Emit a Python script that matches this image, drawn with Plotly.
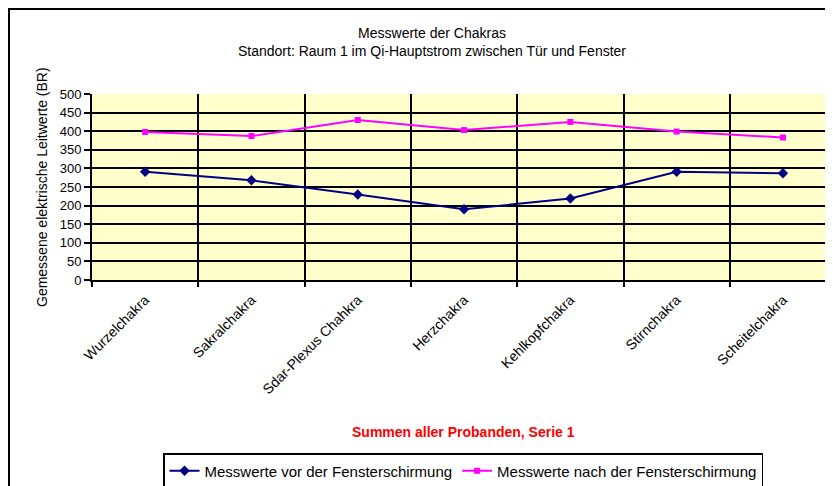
import plotly.graph_objects as go

categories = ["Wurzelchakra", "Sakralchakra", "Solar-Plexus Chahkra", "Herzchakra",
              "Kehlkopfchakra", "Stirnchakra", "Scheitelchakra"]
tick_labels = ["Wurzelchakra", "Sakralchakra", "Sdar-Plexus Chahkra", "Herzchakra",
               "Kehlkopfchakra", "Stirnchakra", "Scheitelchakra"]
vor_values = [291, 268, 230, 190, 219, 291, 287]
nach_values = [398, 387, 430, 403, 425, 399, 383]
y_ticks = list(range(0, 501, 50))

font_family = "Liberation Sans, Arial, sans-serif"
x_idx = list(range(len(categories)))
boundaries = [i - 0.5 for i in range(len(categories) + 1)]

# page body has an 8px margin: figure coordinates = screen coordinates - 8
OFF = 8
W, H = 833, 486
L, T = 92 - OFF, 94 - OFF
plot_h = 186
B = H - T - plot_h
R = 0
plot_w = W - L - R
cat_w = 106.3
x_max = -0.5 + plot_w / cat_w


def px_x(sx):
    return (sx - OFF - L) / plot_w


def px_y(sy):
    return (T + plot_h - (sy - OFF)) / plot_h


fig = go.Figure()
fig.add_trace(go.Scatter(
    x=x_idx, y=vor_values, name="Messwerte vor der Fensterschirmung",
    mode="lines+markers", line=dict(color="#000080", width=2),
    marker=dict(symbol="diamond", size=8, color="#000080"),
))
fig.add_trace(go.Scatter(
    x=x_idx, y=nach_values, name="Messwerte nach der Fensterschirmung",
    mode="lines+markers", line=dict(color="#FF00FF", width=2),
    marker=dict(symbol="square", size=6, color="#FF00FF"),
))
fig.add_trace(go.Scatter(x=[None], y=[None], xaxis="x2", showlegend=False, hoverinfo="skip"))

fig.update_layout(
    width=W, height=H,
    margin=dict(l=L, r=R, t=T, b=B, autoexpand=False),
    paper_bgcolor="white",
    plot_bgcolor="#FFFFCC",
    font=dict(family=font_family, size=14, color="black"),
    showlegend=True,
    legend=dict(
        orientation="h", x=px_x(463), xanchor="center", y=px_y(471), yanchor="middle",
        bordercolor="black", borderwidth=1.5, bgcolor="white",
        font=dict(size=15), itemwidth=30,
    ),
    xaxis=dict(
        range=[-0.5, x_max], tickmode="array", tickvals=x_idx, ticktext=tick_labels,
        tickangle=-45, showgrid=False, ticks="", zeroline=False,
        showline=False, tickfont=dict(size=14), ticklabelstandoff=8,
    ),
    xaxis2=dict(
        range=[-0.5, x_max], overlaying="x", anchor="y", side="bottom",
        tickmode="array", tickvals=boundaries, showticklabels=False,
        showgrid=True, gridcolor="black", gridwidth=1.5,
        ticks="outside", ticklen=5, tickcolor="black", tickwidth=1.5,
        showline=True, linecolor="black", linewidth=2, zeroline=False,
    ),
    yaxis=dict(
        range=[0, 500], tickmode="array", tickvals=y_ticks,
        showgrid=True, gridcolor="black", gridwidth=2,
        ticks="outside", ticklen=6, tickcolor="black", tickwidth=1.5,
        showline=True, linecolor="black", linewidth=2, zeroline=False,
        tickfont=dict(size=13),
    ),
    annotations=[
        dict(text="Messwerte der Chakras<br>Standort: Raum 1 im Qi-Hauptstrom zwischen Tür und Fenster",
             xref="paper", yref="paper", x=px_x(432), y=px_y(41.5),
             xanchor="center", yanchor="middle", showarrow=False,
             font=dict(size=14, color="black")),
        dict(text="Gemessene elektrische Leitwerte (BR)",
             xref="paper", yref="paper", x=px_x(42), y=px_y(187),
             xanchor="center", yanchor="middle", textangle=-90, showarrow=False,
             font=dict(size=14, color="black")),
        dict(text="<b>Summen aller Probanden, Serie 1</b>",
             xref="paper", yref="paper", x=px_x(463), y=px_y(432),
             xanchor="center", yanchor="middle", showarrow=False,
             font=dict(size=14, color="#FF0000")),
    ],
    shapes=[
        dict(type="rect", xref="paper", yref="paper",
             x0=px_x(9), x1=px_x(950), y0=px_y(9), y1=px_y(560),
             line=dict(color="black", width=2), fillcolor="rgba(0,0,0,0)", layer="above"),
    ],
)

fig.write_html("out.html")
